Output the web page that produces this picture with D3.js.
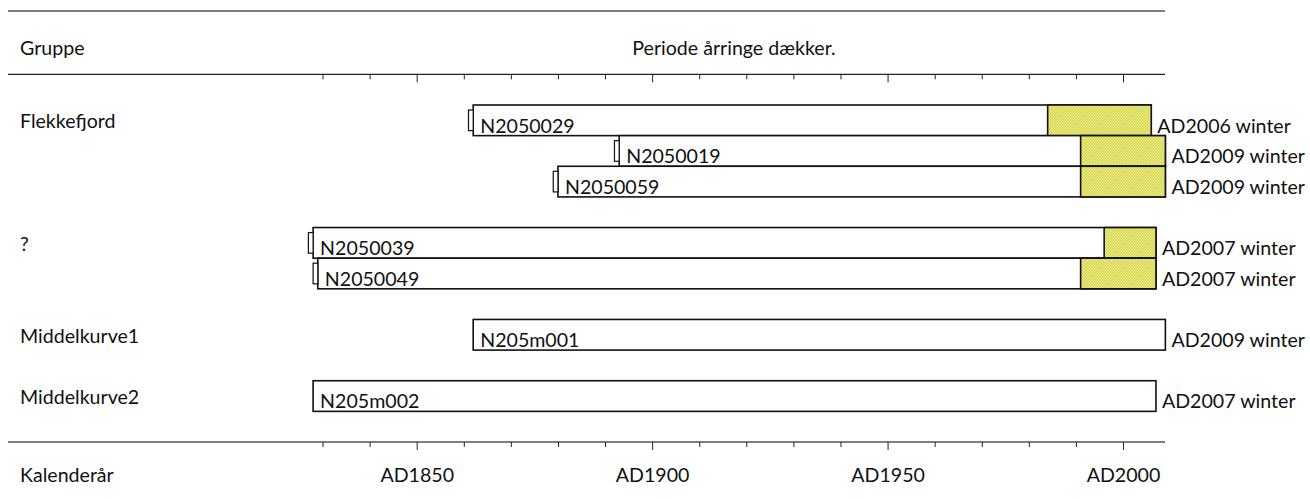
<!DOCTYPE html>
<html>
<head>
<meta charset="utf-8">
<script src="https://cdn.jsdelivr.net/npm/d3@7"></script>
<style>
  body { margin: 0; background: #fff; }
  text { font-family: Lato, "Open Sans", sans-serif; font-size: 19.6px; fill: #111; }
</style>
</head>
<body>
<div id="chart"></div>
<script>
const groupNames = ['Flekkefjord', '?', 'Middelkurve1', 'Middelkurve2'];
const seriesIds = ['N2050029', 'N2050019', 'N2050059', 'N2050039', 'N2050049', 'N205m001', 'N205m002'];
const seriesGroup = [0, 0, 0, 1, 1, 2, 3];
const seriesRow = [0, 1, 2, 4, 5, 7, 9];
const startYears = [1862, 1893, 1880, 1828, 1829, 1862, 1828];
const sapwoodYears = [1984, 1991, 1991, 1996, 1991, null, null];
const endYears = [2006, 2009, 2009, 2007, 2007, 2009, 2007];
const hasPith = [true, true, true, true, true, false, false];
const endLabels = ['AD2006 winter', 'AD2009 winter', 'AD2009 winter', 'AD2007 winter', 'AD2007 winter', 'AD2009 winter', 'AD2007 winter'];
const tickYears = [1830, 1840, 1850, 1860, 1870, 1880, 1890, 1900, 1910, 1920, 1930, 1940, 1950, 1960, 1970, 1980, 1990, 2000];
const majorYears = [1850, 1900, 1950, 2000];

const width = 1310;
const height = 499;
const lineLeft = 8;
const lineRight = 1165;

window.onload = function() {

     const svg = d3.select('#chart')
          .append('svg')
               .attr('width', width)
               .attr('height', height);

     const xScale = d3.scaleLinear()
          .domain([1850, 2000])
          .range([416.7, 1123]);

     // rows: 0 is first bar, -1 is top axis, 11 is bottom axis
     const yRow = d3.scaleLinear()
          .domain([0, 11])
          .range([105, 442]);
     const rowH = yRow(1) - yRow(0);

     // sapwood hatch
     const pat = svg.append('defs').append('pattern')
          .attr('id', 'sap')
          .attr('patternUnits', 'userSpaceOnUse')
          .attr('width', 3)
          .attr('height', 3);
     pat.append('rect').attr('width', 3).attr('height', 3).attr('fill', '#e6e675');
     pat.append('path').attr('d', 'M0,3 L3,0').attr('stroke', '#cfcf55').attr('stroke-width', 0.8);

     // top grey rule
     svg.append('line')
          .attr('x1', lineLeft).attr('x2', lineRight)
          .attr('y1', 11).attr('y2', 11)
          .attr('stroke', '#808080').attr('stroke-width', 2);

     svg.append('text').attr('x', 20).attr('y', 55).text('Gruppe');
     svg.append('text').attr('x', 734).attr('y', 55).attr('text-anchor', 'middle').text('Periode årringe dækker.');

     // top axis (ticks only)
     const topY = yRow(-1);
     svg.append('line')
          .attr('x1', lineLeft).attr('x2', lineRight)
          .attr('y1', topY).attr('y2', topY)
          .attr('stroke', '#222').attr('stroke-width', 1.2);
     svg.append('g')
          .attr('transform', `translate(0, ${topY})`)
          .call(d3.axisBottom(xScale).tickValues(tickYears).tickFormat('').tickSizeOuter(0))
          .call(g => g.select('.domain').remove())
          .call(g => g.selectAll('.tick line')
               .attr('stroke', '#222')
               .attr('y2', d => majorYears.includes(d) ? 8 : 5));

     // bottom axis
     const botY = yRow(11);
     svg.append('line')
          .attr('x1', lineLeft).attr('x2', lineRight)
          .attr('y1', botY).attr('y2', botY)
          .attr('stroke', '#808080').attr('stroke-width', 2);
     svg.append('g')
          .attr('transform', `translate(0, ${botY})`)
          .call(d3.axisBottom(xScale).tickValues(tickYears)
               .tickFormat(d => majorYears.includes(d) ? 'AD' + d : '')
               .tickSizeOuter(0))
          .call(g => g.select('.domain').remove())
          .call(g => g.selectAll('.tick line')
               .attr('stroke', '#222')
               .attr('y2', d => majorYears.includes(d) ? 8 : 5))
          .call(g => g.selectAll('.tick text')
               .attr('y', 0).attr('dy', 0)
               .attr('transform', 'translate(0, 40)'))
          .attr('font-family', null).attr('font-size', null);
     svg.append('text').attr('x', 20).attr('y', 482).text('Kalenderår');

     // group labels
     groupNames.forEach((name, gi) => {
          const firstRow = seriesRow[seriesGroup.indexOf(gi)];
          svg.append('text')
               .attr('x', 20)
               .attr('y', yRow(firstRow) + rowH / 2 + 8)
               .text(name);
     });

     const rows = seriesIds.map((id, i) => ({
          id: id,
          row: seriesRow[i],
          start: startYears[i],
          sap: sapwoodYears[i],
          end: endYears[i],
          pith: hasPith[i],
          endLabel: endLabels[i]
     }));

     const bars = svg.append('g').selectAll('g')
          .data(rows)
          .enter()
               .append('g');

     bars.append('rect')
          .attr('x', d => xScale(d.start))
          .attr('y', d => yRow(d.row))
          .attr('width', d => xScale(d.end) - xScale(d.start))
          .attr('height', rowH)
          .attr('fill', '#fff')
          .attr('stroke', '#111')
          .attr('stroke-width', 1.6);

     bars.filter(d => d.sap !== null)
          .append('rect')
               .attr('x', d => xScale(d.sap))
               .attr('y', d => yRow(d.row))
               .attr('width', d => xScale(d.end) - xScale(d.sap))
               .attr('height', rowH)
               .attr('fill', 'url(#sap)')
               .attr('stroke', '#111')
               .attr('stroke-width', 1.6);

     bars.filter(d => d.pith)
          .append('rect')
               .attr('x', d => xScale(d.start - 1))
               .attr('y', d => yRow(d.row) + 5)
               .attr('width', d => xScale(d.start) - xScale(d.start - 1))
               .attr('height', rowH - 10)
               .attr('fill', '#fff')
               .attr('stroke', '#111')
               .attr('stroke-width', 1.2);

     bars.append('text')
          .attr('x', d => xScale(d.start) + 7)
          .attr('y', d => yRow(d.row) + rowH - 3)
          .text(d => d.id);

     bars.append('text')
          .attr('x', d => xScale(d.end) + 6)
          .attr('y', d => yRow(d.row) + rowH - 3)
          .text(d => d.endLabel);
};
</script>
</body>
</html>
